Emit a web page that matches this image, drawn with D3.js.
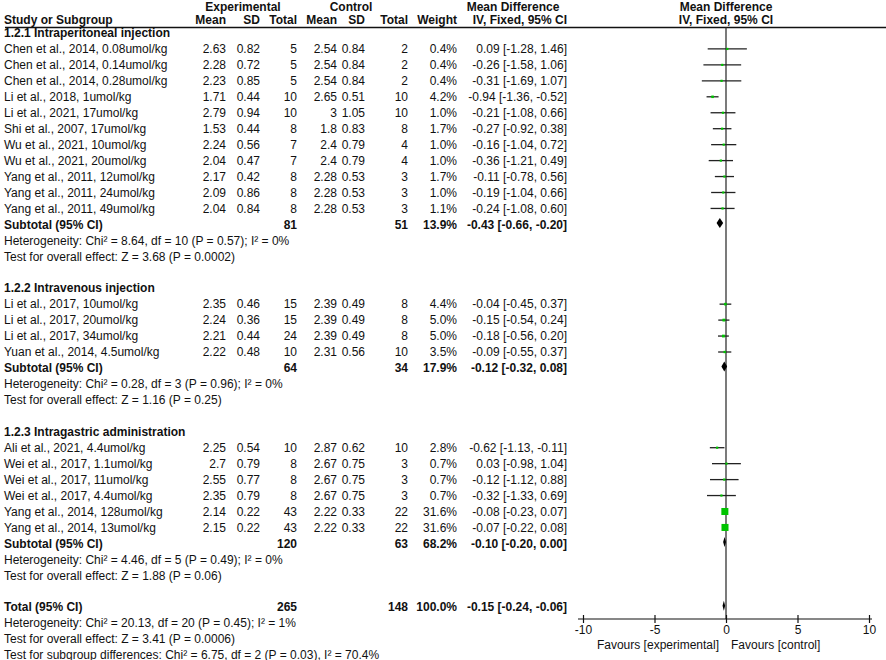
<!DOCTYPE html>
<html>
<head>
<meta charset="utf-8">
<script src="https://cdn.jsdelivr.net/npm/d3@7"></script>
<style>
  body { margin: 0; background: #fff; }
  svg { display: block; font-family: "Liberation Sans", Arial, sans-serif; }
  .txt { font-size: 12px; fill: #111; }
  .bold { font-weight: bold; }
</style>
</head>
<body>
<div id="chart"></div>
<script>
// study rows: label, exp mean, exp sd, exp n, ctl mean, ctl sd, ctl n, weight, md, lo, hi
const group1 = [
    ['Chen et al., 2014, 0.08umol/kg', '2.63', '0.82', '5', '2.54', '0.84', '2', '0.4%', '0.09', '-1.28', '1.46'],
    ['Chen et al., 2014, 0.14umol/kg', '2.28', '0.72', '5', '2.54', '0.84', '2', '0.4%', '-0.26', '-1.58', '1.06'],
    ['Chen et al., 2014, 0.28umol/kg', '2.23', '0.85', '5', '2.54', '0.84', '2', '0.4%', '-0.31', '-1.69', '1.07'],
    ['Li et al., 2018, 1umol/kg', '1.71', '0.44', '10', '2.65', '0.51', '10', '4.2%', '-0.94', '-1.36', '-0.52'],
    ['Li et al., 2021, 17umol/kg', '2.79', '0.94', '10', '3', '1.05', '10', '1.0%', '-0.21', '-1.08', '0.66'],
    ['Shi et al., 2007, 17umol/kg', '1.53', '0.44', '8', '1.8', '0.83', '8', '1.7%', '-0.27', '-0.92', '0.38'],
    ['Wu et al., 2021, 10umol/kg', '2.24', '0.56', '7', '2.4', '0.79', '4', '1.0%', '-0.16', '-1.04', '0.72'],
    ['Wu et al., 2021, 20umol/kg', '2.04', '0.47', '7', '2.4', '0.79', '4', '1.0%', '-0.36', '-1.21', '0.49'],
    ['Yang et al., 2011, 12umol/kg', '2.17', '0.42', '8', '2.28', '0.53', '3', '1.7%', '-0.11', '-0.78', '0.56'],
    ['Yang et al., 2011, 24umol/kg', '2.09', '0.86', '8', '2.28', '0.53', '3', '1.0%', '-0.19', '-1.04', '0.66'],
    ['Yang et al., 2011, 49umol/kg', '2.04', '0.84', '8', '2.28', '0.53', '3', '1.1%', '-0.24', '-1.08', '0.60']
];
const group2 = [
    ['Li et al., 2017, 10umol/kg', '2.35', '0.46', '15', '2.39', '0.49', '8', '4.4%', '-0.04', '-0.45', '0.37'],
    ['Li et al., 2017, 20umol/kg', '2.24', '0.36', '15', '2.39', '0.49', '8', '5.0%', '-0.15', '-0.54', '0.24'],
    ['Li et al., 2017, 34umol/kg', '2.21', '0.44', '24', '2.39', '0.49', '8', '5.0%', '-0.18', '-0.56', '0.20'],
    ['Yuan et al., 2014, 4.5umol/kg', '2.22', '0.48', '10', '2.31', '0.56', '10', '3.5%', '-0.09', '-0.55', '0.37']
];
const group3 = [
    ['Ali et al., 2021, 4.4umol/kg', '2.25', '0.54', '10', '2.87', '0.62', '10', '2.8%', '-0.62', '-1.13', '-0.11'],
    ['Wei et al., 2017, 1.1umol/kg', '2.7', '0.79', '8', '2.67', '0.75', '3', '0.7%', '0.03', '-0.98', '1.04'],
    ['Wei et al., 2017, 11umol/kg', '2.55', '0.77', '8', '2.67', '0.75', '3', '0.7%', '-0.12', '-1.12', '0.88'],
    ['Wei et al., 2017, 4.4umol/kg', '2.35', '0.79', '8', '2.67', '0.75', '3', '0.7%', '-0.32', '-1.33', '0.69'],
    ['Yang et al., 2014, 128umol/kg', '2.14', '0.22', '43', '2.22', '0.33', '22', '31.6%', '-0.08', '-0.23', '0.07'],
    ['Yang et al., 2014, 13umol/kg', '2.15', '0.22', '43', '2.22', '0.33', '22', '31.6%', '-0.07', '-0.22', '0.08']
];

// subgroup headings and pooled results: label, exp total, ctl total, weight, md, lo, hi
const groupTitles = ['1.2.1 Intraperitoneal injection', '1.2.2 Intravenous injection', '1.2.3 Intragastric administration'];
const subtotals = [
    ['Subtotal (95% CI)', '81', '51', '13.9%', '-0.43', '-0.66', '-0.20'],
    ['Subtotal (95% CI)', '64', '34', '17.9%', '-0.12', '-0.32', '0.08'],
    ['Subtotal (95% CI)', '120', '63', '68.2%', '-0.10', '-0.20', '0.00']
];
const heterogeneity = [
    'Heterogeneity: Chi² = 8.64, df = 10 (P = 0.57); I² = 0%',
    'Heterogeneity: Chi² = 0.28, df = 3 (P = 0.96); I² = 0%',
    'Heterogeneity: Chi² = 4.46, df = 5 (P = 0.49); I² = 0%'
];
const overallTests = [
    'Test for overall effect: Z = 3.68 (P = 0.0002)',
    'Test for overall effect: Z = 1.16 (P = 0.25)',
    'Test for overall effect: Z = 1.88 (P = 0.06)'
];
const total = ['Total (95% CI)', '265', '148', '100.0%', '-0.15', '-0.24', '-0.06'];
const totalNotes = [
    'Heterogeneity: Chi² = 20.13, df = 20 (P = 0.45); I² = 1%',
    'Test for overall effect: Z = 3.41 (P = 0.0006)',
    'Test for subgroup differences: Chi² = 6.75, df = 2 (P = 0.03), I² = 70.4%'
];
const axisTicks = [-10, -5, 0, 5, 10];

const width = 886, height = 660;

// build the row list
const rows = [];
[group1, group2, group3].forEach((grp, gi) => {
    rows.push({ kind: 'title', label: groupTitles[gi] });
    grp.forEach(s => rows.push({ kind: 'study', d: s }));
    rows.push({ kind: 'sub', d: subtotals[gi] });
    rows.push({ kind: 'note', label: heterogeneity[gi] });
    rows.push({ kind: 'note', label: overallTests[gi] });
    rows.push({ kind: 'blank' });
});
rows.push({ kind: 'sub', d: total });
totalNotes.forEach(t => rows.push({ kind: 'note', label: t }));

const y = d3.scaleLinear().domain([0, rows.length - 1]).range([33, 33 + (rows.length - 1) * 15.95]);
const x = d3.scaleLinear().domain([-10, 10]).range([583, 869]);
const axisY = 619;

// column right edges
const colX = { em: 226, esd: 260, en: 297, cm: 337, csd: 365, cn: 408, w: 457, ci: 567 };

const svg = d3.select('#chart').append('svg')
    .attr('width', width)
    .attr('height', height);

svg.append('rect').attr('width', width).attr('height', height).attr('fill', '#fff');

function text(g, str, xx, yy, anchor, bold) {
    return g.append('text')
        .attr('class', 'txt' + (bold ? ' bold' : ''))
        .attr('x', xx)
        .attr('y', yy)
        .attr('dy', '0.35em')
        .attr('text-anchor', anchor || 'start')
        .text(str);
}

// headers
const head = svg.append('g');
const h1 = 6.5, h2 = 19.5;
text(head, 'Experimental', 243, h1, 'middle', true);
text(head, 'Control', 351, h1, 'middle', true);
text(head, 'Mean Difference', 513, h1, 'middle', true);
text(head, 'Mean Difference', x(0), h1, 'middle', true);
text(head, 'Study or Subgroup', 4, h2, 'start', true);
text(head, 'Mean', colX.em, h2, 'end', true);
text(head, 'SD', colX.esd, h2, 'end', true);
text(head, 'Total', colX.en, h2, 'end', true);
text(head, 'Mean', colX.cm, h2, 'end', true);
text(head, 'SD', colX.csd, h2, 'end', true);
text(head, 'Total', colX.cn, h2, 'end', true);
text(head, 'Weight', colX.w, h2, 'end', true);
text(head, 'IV, Fixed, 95% CI', colX.ci, h2, 'end', true);
text(head, 'IV, Fixed, 95% CI', x(0), h2, 'middle', true);

svg.append('line')
    .attr('x1', 5).attr('x2', width)
    .attr('y1', 27.5).attr('y2', 27.5)
    .attr('stroke', '#111').attr('stroke-width', 1.3);

// line of no effect
svg.append('line')
    .attr('x1', x(0)).attr('x2', x(0))
    .attr('y1', 27.5).attr('y2', axisY)
    .attr('stroke', '#333').attr('stroke-width', 1.3);

const body = svg.append('g');
const marks = svg.append('g');

rows.forEach((r, i) => {
    const yy = y(i);
    if (r.kind === 'title') {
        text(body, r.label, 4, yy, 'start', true);
    } else if (r.kind === 'note') {
        text(body, r.label, 4, yy, 'start', false);
    } else if (r.kind === 'study') {
        const d = r.d;
        text(body, d[0], 4, yy);
        text(body, d[1], colX.em, yy, 'end');
        text(body, d[2], colX.esd, yy, 'end');
        text(body, d[3], colX.en, yy, 'end');
        text(body, d[4], colX.cm, yy, 'end');
        text(body, d[5], colX.csd, yy, 'end');
        text(body, d[6], colX.cn, yy, 'end');
        text(body, d[7], colX.w, yy, 'end');
        text(body, `${d[8]} [${d[9]}, ${d[10]}]`, colX.ci, yy, 'end');

        const md = +d[8], lo = +d[9], hi = +d[10], w = parseFloat(d[7]);
        marks.append('line')
            .attr('x1', x(lo)).attr('x2', x(hi))
            .attr('y1', yy).attr('y2', yy)
            .attr('stroke', '#222').attr('stroke-width', 1.3);
        const side = Math.max(2.2, 1.25 * Math.sqrt(w));
        marks.append('rect')
            .attr('x', x(md) - side / 2).attr('y', yy - side / 2)
            .attr('width', side).attr('height', side)
            .attr('fill', '#00c400');
    } else if (r.kind === 'sub') {
        const d = r.d;
        text(body, d[0], 4, yy, 'start', true);
        text(body, d[1], colX.en, yy, 'end', true);
        text(body, d[2], colX.cn, yy, 'end', true);
        text(body, d[3], colX.w, yy, 'end', true);
        text(body, `${d[4]} [${d[5]}, ${d[6]}]`, colX.ci, yy, 'end', true);

        const md = +d[4], lo = +d[5], hi = +d[6];
        marks.append('polygon')
            .attr('points', [[x(lo), yy - 1.5], [x(md), yy - 6.5], [x(hi), yy - 1.5], [x(md), yy + 3.5]].join(' '))
            .attr('fill', '#000');
    }
});

// axis
const axisG = svg.append('g')
    .attr('transform', `translate(0,${axisY})`)
    .call(d3.axisBottom(x).tickValues(axisTicks).tickFormat(d => String(d)).tickSizeOuter(0).tickSizeInner(4).tickPadding(2));

axisG.select('.domain').remove();
axisG.append('line')
    .attr('x1', x.range()[0] - 5).attr('x2', x.range()[1] + 3)
    .attr('stroke', '#111').attr('stroke-width', 1.2);
axisG.selectAll('.tick line').attr('y1', -4).attr('y2', 4).attr('stroke', '#111').attr('stroke-width', 1.2);
axisG.selectAll('.tick text')
    .attr('font-family', '"Liberation Sans", Arial, sans-serif')
    .attr('font-size', 12)
    .attr('fill', '#111');

text(svg, 'Favours [experimental]', x(0) - 7, 645, 'end');
text(svg, 'Favours [control]', x(0) + 5, 645, 'start');
</script>
</body>
</html>
